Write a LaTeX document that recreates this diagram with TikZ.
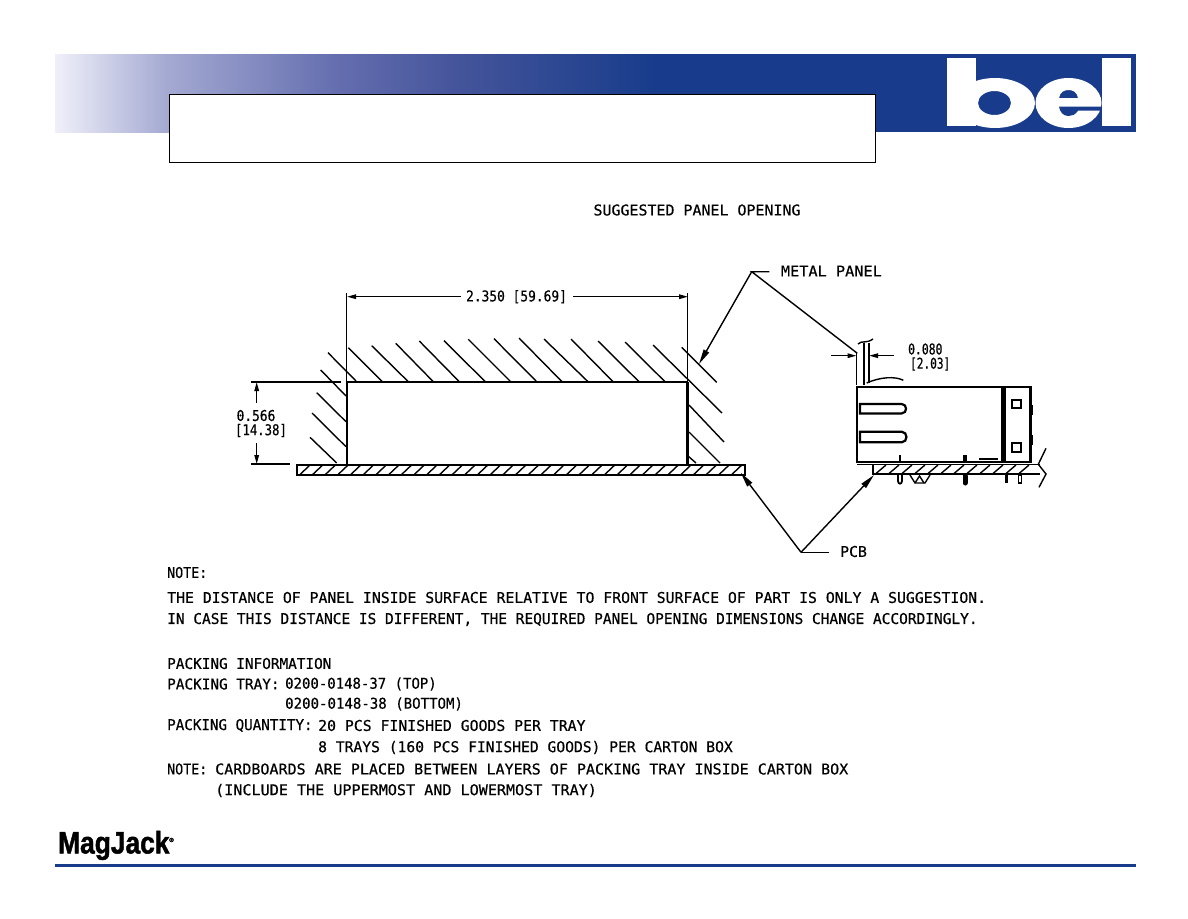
\documentclass[tikz,border=0pt]{standalone}
\usepackage{fontspec}
\setmonofont[FakeBold=0.5]{DejaVu Sans Mono}
\newfontfamily\magfont[FakeBold=1.6]{Liberation Sans Bold}
\usetikzlibrary{arrows.meta}
\definecolor{belblue}{RGB}{24,60,139}
\definecolor{fadeA}{RGB}{240,240,250}
\definecolor{fadeB}{RGB}{165,170,210}
\definecolor{fadeC}{RGB}{100,110,175}
\definecolor{fadeD}{RGB}{70,85,155}
\tikzset{%
  tipA/.tip={Triangle[length=9pt,width=4.5pt]},
  tipB/.tip={Triangle[length=15pt,width=6pt]},
  thinline/.style={black, line width=1.4pt},
  thickline/.style={black, line width=2.8pt},
  cadtext/.style={font=\fontsize{14.8}{16}\ttfamily, inner sep=0pt, anchor=west},
  cadmid/.style={font=\fontsize{14.8}{16}\ttfamily, inner sep=0pt},
}
\begin{document}
\begin{tikzpicture}[x=1pt,y=-1pt]
    \useasboundingbox (0,0) rectangle (1188,918);
    % header band
    \shade[left color=fadeA, right color=fadeB] (55,54) rectangle (165.5,132);
    \shade[left color=fadeB, right color=fadeC] (165,54) rectangle (337.5,132);
    \shade[left color=fadeC, right color=fadeD] (337,54) rectangle (452.5,132);
    \shade[left color=fadeD, right color=belblue] (452,54) rectangle (653.5,132);
    \fill[belblue] (653,54) rectangle (1136,132);
    \draw[black, line width=0.8pt, fill=white] (169.5,94) rectangle (875,162.5);
    % logo
    \fill[white, even odd rule] (995,103) ellipse (40 and 25) (994.5,103) ellipse (16.5 and 12);
    \fill[white] (947,58) rectangle (976,126);
    \fill[white, even odd rule] (1068.5,103) ellipse (33 and 25)
        (1059,98) -- (1078,98) .. controls (1077,92) and (1073,90) .. (1068.5,90) .. controls (1064,90) and (1060,92) .. (1059,98) -- cycle;
    \fill[belblue] (1059,106.7) -- (1102,106.7) -- (1102,110.7) -- (1078,110.7) .. controls (1075,115) and (1072,116) .. (1068.5,116) .. controls (1063,116) and (1060,112) .. (1059,106.7) -- cycle;
    \fill[white] (1102,58) rectangle (1131,126);
    % footer
    \node (magjack) at (58,845.5) [anchor=west, inner sep=0pt, font=\fontsize{31}{32}\magfont, xscale=0.85] {MagJack};
    \node (regmark) at (171.5,840) [inner sep=0pt, font=\fontsize{6}{6}\magfont] {\textregistered};
    \draw[belblue, line width=3pt] (55,865) -- (1136,865);
    % title
    \node (title) at (697,210) [cadmid, xscale=1.01] {SUGGESTED PANEL OPENING};
    % hatch of the panel
    \foreach \xa/\ya/\xb/\yb in {348.3/347.7/382.3/381.7, 371.7/345.7/408.3/381.7, 395.7/343.3/433.3/381.7,
        419.3/341/459.3/381.7, 444/340.7/485.3/381.7, 468.3/339.3/510.7/381.7, 494/338.7/536.7/381.7,
        519/338/562/381.7, 544/339/588/381.7, 571/339/613/381.7, 598/341/639/381.7, 625/342/665/381.7,
        653/345/722/413, 681.7/347.3/716.7/382.3, 689/405/724/442, 689/432/720/463, 688/456/696/463,
        328/352.7/356/381, 320.7/370/346/396, 316.7/392.7/346/421.7, 312/413/346/446.7, 310/437.3/336.7/463}
        \draw[thinline] (\xa,\ya) -- (\xb,\yb);
    % panel opening
    \draw[thickline] (347,382) -- (347,464);
    \draw[thickline] (687.5,382) -- (687.5,464);
    \draw[thinline] (347,382) -- (688,382);
    \draw[thinline] (346.7,293) -- (346.7,382);
    \draw[thinline] (687.7,293) -- (687.7,382);
    % pcb left
    \draw[black, line width=2pt] (296.5,464.5) rectangle (745,475);
    \foreach \x in {300,312.7,...,735}
        \draw[thinline] (\x,474.5) -- (\x+10,465);
    % width dimension
    \coordinate (wLeft) at (347,296.7);
    \coordinate (wRight) at (688,296.7);
    \coordinate (wLeftEnd) at (460.5,296.7);
    \coordinate (wRightEnd) at (572.7,296.7);
    \node (wText) at (516.5,296.7) [cadmid, xscale=0.87] {2.350 [59.69]};
    \draw[thinline, tipA-] (wLeft) -- (wLeftEnd);
    \draw[thinline, tipA-] (wRight) -- (wRightEnd);
    % height dimension
    \coordinate (hTop) at (256.7,382);
    \coordinate (hBot) at (256.7,464);
    \coordinate (hTopEnd) at (256.7,402.7);
    \coordinate (hBotEnd) at (256.7,442.7);
    \node (hTextA) at (256,415.5) [cadmid, xscale=0.87] {0.566};
    \node (hTextB) at (261,430.5) [cadmid, xscale=0.83] {[14.38]};
    \draw[thinline] (251,382) -- (341,382);
    \draw[thinline] (251,464) -- (289.5,464);
    \draw[thinline, tipA-] (hTop) -- (hTopEnd);
    \draw[thinline, tipA-] (hBot) -- (hBotEnd);
    % leaders
    \node (metal) at (780.7,271) [cadtext, xscale=1.03] {METAL PANEL};
    \coordinate (metalStart) at (769.3,271.7);
    \coordinate (metalElbow) at (751.7,271.7);
    \coordinate (metalTipA) at (699,364);
    \coordinate (metalEnd) at (857.3,353.3);
    \draw[thinline] (metalStart) -- (metalElbow) -- (metalEnd);
    \draw[thinline, -tipB] (metalElbow) -- (metalTipA);
    \node (pcb) at (840,551.5) [cadtext] {PCB};
    \coordinate (pcbStart) at (829.3,552.3);
    \coordinate (pcbElbow) at (801,552.3);
    \coordinate (pcbTipA) at (740.7,472.7);
    \coordinate (pcbTipB) at (874,475);
    \draw[thinline] (pcbStart) -- (pcbElbow);
    \draw[thinline, -tipB] (pcbElbow) -- (pcbTipA);
    \draw[thinline, -tipB] (pcbElbow) -- (pcbTipB);
    % part on the right
    \draw[black, line width=2.4pt] (857,386.7) rectangle (1030.5,461.7);
    \draw[black, line width=4.4pt] (1003.3,386.7) -- (1003.3,461.7);
    \draw[thinline] (866.7,383) .. controls (880,377) and (895,376) .. (903.3,380.3);
    \draw[black, line width=2.2pt] (860,404) -- (901.7,404) .. controls (907.5,404) and (907.5,413.4) .. (901.7,413.4) -- (860,413.4) -- cycle;
    \draw[black, line width=2.2pt] (860,431.7) -- (901.7,431.7) .. controls (908,431.7) and (908,442.3) .. (901.7,442.3) -- (860,442.3) -- cycle;
    \draw[black, line width=2pt] (1012,400) rectangle (1020.5,408);
    \draw[black, line width=2pt] (1012,442.5) rectangle (1020.5,451.5);
    \draw[black, line width=2.2pt] (1031.7,405) -- (1031.7,415);
    \draw[black, line width=2.2pt] (1031.7,435) -- (1031.7,445);
    % pcb right
    \draw[thinline] (857,464.3) -- (1040,464.3);
    \draw[black, line width=2pt] (873,464.3) -- (873,474) -- (1040,474);
    \foreach \x in {876,889,...,1030}
        \draw[thinline] (\x,473.5) -- (\x+10,465);
    \draw[thinline] (1046,448.3) -- (1038.3,464.3) -- (1046,474) -- (1039,487.3);
    % pins
    \draw[black, line width=2.4pt] (900,455) -- (900,463);
    \draw[black, line width=4pt] (965,455) -- (965,463);
    \draw[black, line width=2pt] (979,459) -- (998,459);
    \draw[black, line width=1.8pt] (898,475) -- (898,481) .. controls (898,484.5) and (902,484.5) .. (902,481) -- (902,475);
    \draw[black, line width=5pt, line cap=round] (965,476) -- (965,483);
    \draw[black, line width=3pt] (1006,475) -- (1006,483);
    \draw[black, line width=1.2pt] (1018.5,475) rectangle (1021.5,483);
    \draw[thinline] (910,475) -- (915,483) -- (925,483) -- (930,475);
    \draw[thinline] (915,483) -- (919.5,476) -- (924,483);
    % dimension 0.080
    \draw[thinline] (856.5,351.7) -- (856.5,385);
    \draw[thinline] (864,343) -- (864,385);
    \draw[thinline] (869,343) -- (869,383);
    \draw[thinline] (858,344) .. controls (862,340) and (866,344) .. (873,339);
    \coordinate (tLeft) at (856.5,355.7);
    \coordinate (tLeftEnd) at (831,355.7);
    \coordinate (tRight) at (869,355.7);
    \coordinate (tRightEnd) at (894,355.7);
    \draw[thinline, tipA-] (tLeft) -- (tLeftEnd);
    \draw[thinline, tipA-] (tRight) -- (tRightEnd);
    \node (tTextA) at (908,349) [cadtext, xscale=0.77] {0.080};
    \node (tTextB) at (910,364) [cadtext, xscale=0.75] {[2.03]};
    % notes
    \node (noteA) at (167,572.5) [cadtext, xscale=0.9] {NOTE:};
    \node (noteB) at (167,597.5) [cadtext, xscale=0.999] {THE DISTANCE OF PANEL INSIDE SURFACE RELATIVE TO FRONT SURFACE OF PART IS ONLY A SUGGESTION.};
    \node (noteC) at (167,619.5) [cadtext, xscale=0.978] {IN CASE THIS DISTANCE IS DIFFERENT, THE REQUIRED PANEL OPENING DIMENSIONS CHANGE ACCORDINGLY.};
    \node (packA) at (167,663.5) [cadtext, xscale=0.97] {PACKING INFORMATION};
    \node (packB) at (167,684) [cadtext, xscale=0.97] {PACKING TRAY:};
    \node (packC) at (285,684) [cadtext, xscale=0.945] {0200-0148-37 (TOP)};
    \node (packD) at (285,704) [cadtext, xscale=0.95] {0200-0148-38 (BOTTOM)};
    \node (packE) at (167,725.5) [cadtext, xscale=0.96] {PACKING QUANTITY:};
    \node (packF) at (318,725.5) [cadtext] {20 PCS FINISHED GOODS PER TRAY};
    \node (packG) at (318,747.5) [cadtext, xscale=0.99] {8 TRAYS (160 PCS FINISHED GOODS) PER CARTON BOX};
    \node (packH) at (167,769) [cadtext, xscale=0.9] {NOTE:};
    \node (packI) at (215,769) [cadtext, xscale=1.015] {CARDBOARDS ARE PLACED BETWEEN LAYERS OF PACKING TRAY INSIDE CARTON BOX};
    \node (packJ) at (215,790.5) [cadtext, xscale=1.02] {(INCLUDE THE UPPERMOST AND LOWERMOST TRAY)};
\end{tikzpicture}
\end{document}
